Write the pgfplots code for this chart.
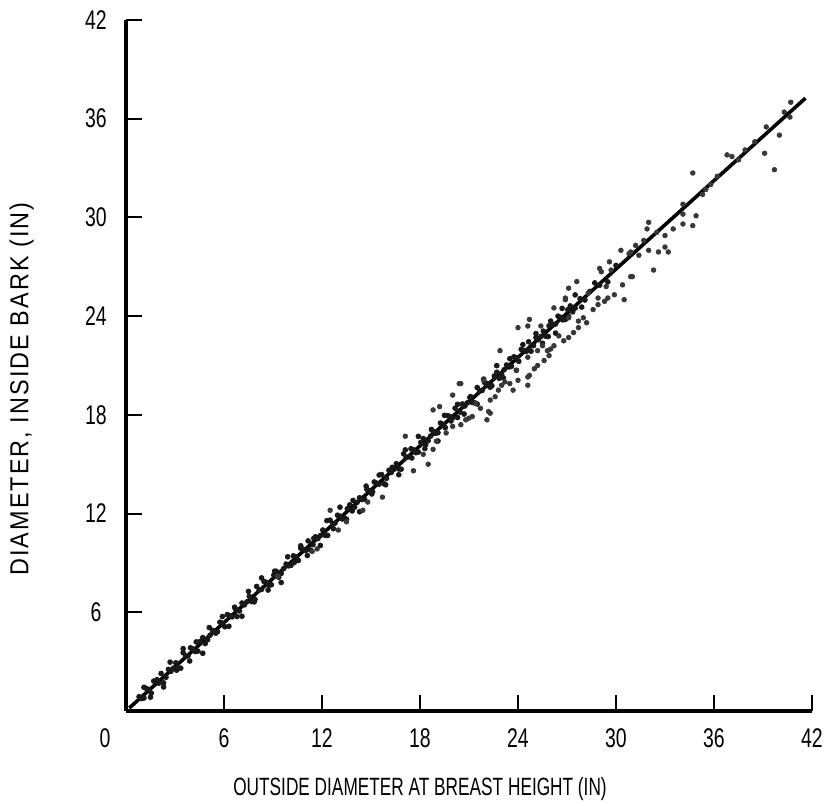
\documentclass[border=0pt]{standalone}
\usepackage{pgfplots}
\pgfplotsset{compat=1.18}
\usepackage{fontspec}
\setmainfont{Liberation Sans}[FakeStretch=0.72]
\newfontfamily\ylabfont{Liberation Sans}[FakeStretch=0.9,LetterSpace=8]
\newfontfamily\xlabfont{Liberation Sans}[FakeStretch=0.69]
\pgfplotstableread{
x y
0.8 0.87
1.1 0.79
1.4 1.30
1.7 1.82
2.0 1.69
2.3 1.71
2.6 2.53
2.9 2.60
3.2 2.62
3.5 3.54
3.8 3.36
4.1 3.77
4.4 3.64
4.7 4.46
5.0 4.33
5.3 4.90
5.6 4.82
5.9 5.34
6.2 5.86
6.5 5.72
6.8 5.74
7.1 6.56
7.4 6.63
7.7 6.65
8.0 7.57
8.3 7.39
8.6 7.81
8.9 7.67
9.2 8.49
9.5 8.36
9.8 8.93
10.1 8.85
10.4 9.37
10.7 9.89
11.0 9.76
11.3 9.78
11.6 10.59
11.9 10.66
12.2 10.68
12.5 11.60
12.8 11.42
13.1 11.84
13.4 11.71
13.7 12.53
14.0 12.39
14.3 12.96
14.6 12.88
14.9 13.40
15.2 13.92
15.5 13.79
15.8 13.81
16.1 14.63
16.4 14.69
16.7 14.71
17.0 15.63
17.3 15.45
17.6 15.87
17.9 15.74
18.2 16.56
18.5 16.43
18.8 17.00
19.1 16.91
19.4 17.43
19.7 17.95
20.0 17.82
20.3 17.84
20.6 18.66
20.9 18.73
21.2 18.75
21.5 19.66
21.8 19.48
22.1 19.90
22.4 19.77
22.7 20.59
23.0 20.46
23.3 21.03
23.6 20.95
23.9 21.46
24.2 21.98
24.5 21.85
24.8 21.87
25.1 22.69
25.4 22.76
25.7 22.78
26.0 23.70
26.3 23.52
26.6 23.93
26.9 23.80
27.2 24.62
27.5 24.49
27.8 25.06
28.1 24.98
28.4 25.50
28.7 26.02
29.0 25.88
29.5 26.08
30.0 27.08
0.95 0.75
1.25 1.37
1.55 1.09
1.85 1.76
2.15 2.28
2.45 2.05
2.75 2.41
3.05 2.93
3.35 2.60
3.65 3.32
3.95 3.84
4.25 3.61
4.55 4.23
4.85 4.10
5.15 4.61
5.45 4.78
5.75 5.40
6.05 5.12
6.35 5.79
6.65 6.31
6.95 6.08
7.25 6.45
7.55 6.97
7.85 6.63
8.15 7.35
8.45 7.87
8.75 7.64
9.05 8.26
9.35 8.13
9.65 8.65
9.95 8.82
10.25 9.43
10.55 9.15
10.85 9.82
11.15 10.34
11.45 10.11
11.75 10.48
12.05 11.00
12.35 10.67
12.65 11.38
12.95 11.90
13.25 11.67
13.55 12.29
13.85 12.16
14.15 12.68
14.45 12.85
14.75 13.47
15.05 13.19
15.35 13.85
15.65 14.37
15.95 14.14
16.25 14.51
16.55 15.03
16.85 14.70
17.15 15.42
17.45 15.94
17.75 15.70
18.05 16.32
18.35 16.19
18.65 16.71
18.95 16.88
19.25 17.50
19.55 17.22
19.85 17.89
20.15 18.40
20.45 18.17
20.75 18.54
21.05 19.06
21.35 18.73
21.65 19.45
21.95 19.97
22.25 19.74
22.55 20.36
22.85 20.22
23.15 20.74
23.45 20.91
23.75 21.53
24.05 21.25
24.35 21.92
24.65 22.44
24.95 22.21
25.25 22.57
25.55 23.09
25.85 22.76
26.15 23.48
26.45 24.00
26.75 23.77
27.05 24.39
27.35 24.26
1.1 1.44
1.5 0.84
1.9 1.90
2.3 1.46
2.7 2.97
3.1 2.48
3.5 3.79
3.9 3.04
4.3 4.20
4.7 3.51
5.1 5.07
5.5 4.73
5.9 5.74
6.3 5.15
6.7 6.20
7.1 5.76
7.5 7.27
7.9 6.78
8.3 8.09
8.7 7.35
9.1 8.50
9.5 7.81
9.9 9.37
10.3 9.03
10.7 10.04
11.1 9.45
11.5 10.50
11.9 10.06
12.3 11.57
12.7 11.08
13.1 12.39
13.5 11.65
13.9 12.80
14.3 12.11
14.7 13.67
15.1 13.33
15.5 14.34
15.9 13.75
16.3 14.81
16.7 14.36
17.1 15.87
17.5 15.38
17.9 16.69
18.3 15.95
18.7 17.11
19.1 16.41
19.5 17.97
19.9 17.63
20.3 18.64
20.7 18.05
21.1 19.11
21.5 18.66
21.9 20.17
22.3 19.68
22.7 20.99
23.1 20.25
23.5 21.41
23.9 20.71
24.3 22.27
24.7 21.93
25.1 22.94
25.5 22.35
25.9 23.41
26.3 22.97
26.7 24.47
27.1 23.98
27.5 25.29
27.9 24.55
}\nearline
\pgfplotstableread{
x y
40.7 37.0
40.3 36.4
40.65 36.1
39.2 35.5
40.0 35.0
39.1 33.9
39.7 32.9
37.9 34.1
36.8 33.8
37.1 33.7
34.7 32.7
35.3 31.4
34.1 30.8
34.1 30.2
34.9 30.1
34.1 29.6
34.7 29.5
33.5 29.3
32.0 29.7
31.9 29.3
32.5 29.1
33.0 28.9
31.2 28.3
31.7 28.6
30.3 28.0
32.0 28.0
32.6 27.9
33.2 27.9
31.4 27.7
30.8 27.8
33.0 28.2
32.3 26.8
30.9 26.4
29.6 27.3
29.0 26.9
29.7 26.8
30.9 27.9
31.0 26.4
30.4 25.9
29.4 25.8
29.9 25.3
30.5 25.0
29.5 25.1
28.9 25.1
27.6 26.1
27.1 25.7
28.3 25.4
28.9 24.7
26.9 25.1
26.2 24.5
24.7 23.8
24.0 23.3
24.6 23.4
25.4 23.4
27.1 23.9
27.7 23.7
28.2 23.6
27.7 23.3
27.1 22.7
26.5 22.8
26.2 22.2
25.9 21.6
25.5 22.2
25.2 21.9
22.9 21.9
24.6 21.5
25.2 21.0
25.6 21.3
23.9 20.7
24.7 20.4
24.6 19.8
23.7 19.5
22.8 19.5
21.9 20.1
20.5 19.9
22.3 18.9
21.4 18.7
22.2 18.2
20.0 19.2
20.4 19.9
18.8 18.3
19.2 18.5
17.1 16.7
18.5 15.0
17.6 14.6
18.2 15.6
22.3 18.1
22.1 17.7
24.6 20.3
21.0 17.8
20.5 17.4
20.0 17.3
15.7 13.0
14.8 12.7
14.5 12.2
12.5 12.2
13.5 11.5
13.0 11.0
11.7 9.85
11.4 9.7
9.3 8.2
29.1 26.7
26.9 25.0
36.2 32.5
37.5 33.5
38.5 34.6
35.8 32.0
35.5 31.7
23.2 20.0
23.0 19.8
24.0 20.1
25.0 20.8
25.8 21.9
26.8 22.5
27.4 23.0
28.0 23.9
28.6 24.4
29.3 24.9
26.0 22.0
23.5 19.9
22.6 19.1
21.7 18.4
21.2 17.9
20.8 17.7
19.6 16.9
19.0 16.4
18.8 15.9
}\scatter
\begin{document}
\begin{tikzpicture}
\path[use as bounding box] (-63pt,-47.5pt) rectangle (352.5pt,355.5pt);
\begin{axis}[
  scale only axis, width=343pt, height=345.5pt,
  xmin=0, xmax=42, ymin=0, ymax=42,
  axis lines*=left,
  axis line style={line width=2pt},
  tick align=inside,
  major tick length=8pt,
  tick style={line width=1pt, black},
  xtick={6,12,...,42}, ytick={6,12,...,42},
  extra x ticks={0},
  extra x tick style={major tick length=0pt, xticklabel style={xshift=-10.5pt}},
  /pgf/number format/assume math mode=true,
  tick label style={font=\fontsize{13.5}{13.5}\selectfont},
  xticklabel style={anchor=center, yshift=-13.5pt},
  yticklabel style={anchor=center, xshift=-15pt},
  xlabel={OUTSIDE DIAMETER AT BREAST HEIGHT (IN)},
  xlabel style={at={(axis description cs:0.4286,-0.113)}, anchor=center, font=\xlabfont\fontsize{12.5}{12.5}\selectfont},
  ylabel={DIAMETER, INSIDE BARK (IN)},
  ylabel style={at={(axis description cs:-0.152,0.466)}, anchor=center, font=\ylabfont\fontsize{13}{13}\selectfont},
  clip=false,
]
\addplot[only marks, mark=*, mark size=1.2pt, black!90] table[x=x,y=y] {\nearline};
\addplot[only marks, mark=*, mark size=1.15pt, black!78] table[x=x,y=y] {\scatter};
\addplot[black, line width=1.8pt] coordinates {(0.2,0.18) (41.6,37.25)};
\end{axis}
\end{tikzpicture}
\end{document}
